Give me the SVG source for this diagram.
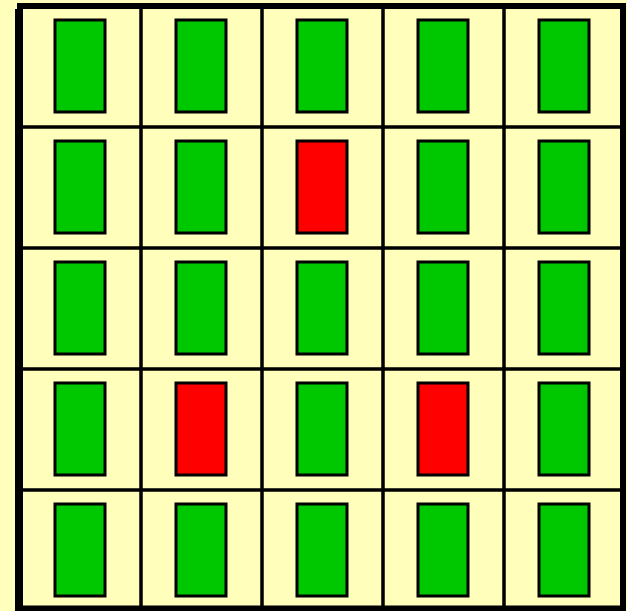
<svg xmlns="http://www.w3.org/2000/svg" width="627" height="611" viewBox="0 0 627 611">
<style>
.bg{fill:#FFFFBB}
.g{fill:#00C800;stroke:#000;stroke-width:3}
.r{fill:#FF0000;stroke:#000;stroke-width:3}
.ln{stroke:#000;stroke-width:3.5;fill:none}
.frame{stroke:#000;stroke-width:6;fill:none}
</style>
<rect class="bg" x="0" y="0" width="627" height="611"/>
<g id="grid">
<path class="ln" d="M141,6V609M262,6V609M383,6V609M504,6V609M20,127H623M20,248H623M20,369H623M20,490H623"/>
<path class="frame" d="M20,6H623V608.5H20Z"/>
<path d="M16.5,9V611" stroke="#000" stroke-width="3" fill="none"/>
</g>
<g id="cells">
<g id="c00"><rect class="g" x="55" y="20" width="50" height="92"/></g>
<g id="c01"><rect class="g" x="176" y="20" width="50" height="92"/></g>
<g id="c02"><rect class="g" x="297" y="20" width="50" height="92"/></g>
<g id="c03"><rect class="g" x="418" y="20" width="50" height="92"/></g>
<g id="c04"><rect class="g" x="539" y="20" width="50" height="92"/></g>
<g id="c10"><rect class="g" x="55" y="141" width="50" height="92"/></g>
<g id="c11"><rect class="g" x="176" y="141" width="50" height="92"/></g>
<g id="c12"><rect class="r" x="297" y="141" width="50" height="92"/></g>
<g id="c13"><rect class="g" x="418" y="141" width="50" height="92"/></g>
<g id="c14"><rect class="g" x="539" y="141" width="50" height="92"/></g>
<g id="c20"><rect class="g" x="55" y="262" width="50" height="92"/></g>
<g id="c21"><rect class="g" x="176" y="262" width="50" height="92"/></g>
<g id="c22"><rect class="g" x="297" y="262" width="50" height="92"/></g>
<g id="c23"><rect class="g" x="418" y="262" width="50" height="92"/></g>
<g id="c24"><rect class="g" x="539" y="262" width="50" height="92"/></g>
<g id="c30"><rect class="g" x="55" y="383" width="50" height="92"/></g>
<g id="c31"><rect class="r" x="176" y="383" width="50" height="92"/></g>
<g id="c32"><rect class="g" x="297" y="383" width="50" height="92"/></g>
<g id="c33"><rect class="r" x="418" y="383" width="50" height="92"/></g>
<g id="c34"><rect class="g" x="539" y="383" width="50" height="92"/></g>
<g id="c40"><rect class="g" x="55" y="504" width="50" height="92"/></g>
<g id="c41"><rect class="g" x="176" y="504" width="50" height="92"/></g>
<g id="c42"><rect class="g" x="297" y="504" width="50" height="92"/></g>
<g id="c43"><rect class="g" x="418" y="504" width="50" height="92"/></g>
<g id="c44"><rect class="g" x="539" y="504" width="50" height="92"/></g>
</g>
</svg>
